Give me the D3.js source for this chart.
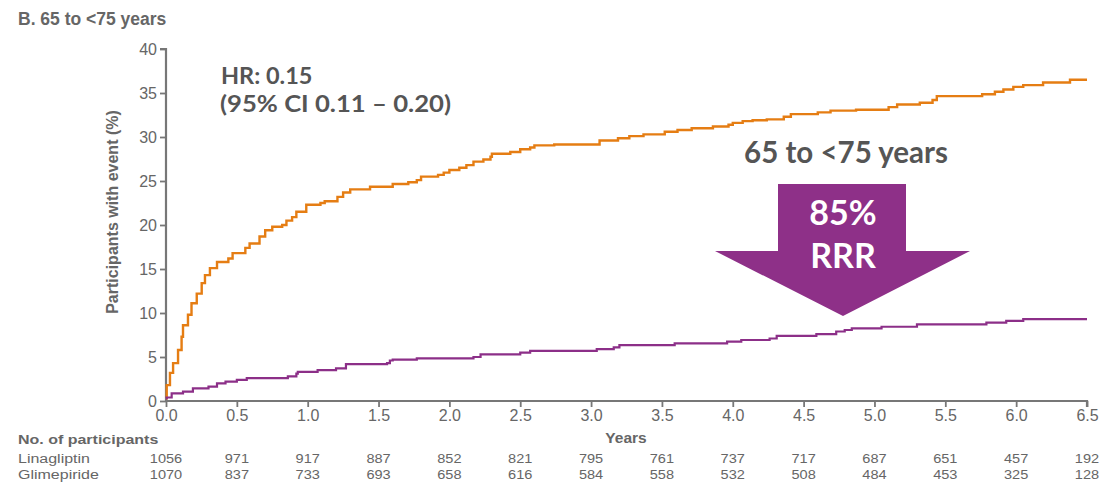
<!DOCTYPE html>
<html>
<head>
<meta charset="utf-8">
<script src="https://cdn.jsdelivr.net/npm/d3@7"></script>
<style>
  html, body { margin: 0; padding: 0; background: #fff; }
  svg { display: block; }
</style>
</head>
<body>
<svg id="chart" width="1099" height="482"></svg>
<script>
// Kaplan–Meier style cumulative incidence, 65 to <75 years
const linaTime = [0, 0.004, 0.04, 0.12, 0.19, 0.30, 0.36, 0.42, 0.50, 0.57, 0.86, 0.92, 0.93, 1.07, 1.20, 1.27, 1.56, 1.58, 1.60, 1.77, 2.17, 2.22, 2.50, 2.57, 3.04, 3.16, 3.20, 3.59, 3.96, 4.06, 4.26, 4.31, 4.59, 4.73, 4.79, 4.84, 5.05, 5.30, 5.79, 5.93, 6.05, 6.5];
const linaPct  = [0.3, 0.4, 0.87, 1.06, 1.44, 1.63, 2.0, 2.2, 2.4, 2.6, 2.8, 3.1, 3.3, 3.5, 3.7, 4.2, 4.3, 4.6, 4.7, 4.85, 5.0, 5.3, 5.5, 5.7, 5.9, 6.1, 6.36, 6.55, 6.74, 6.93, 7.1, 7.4, 7.6, 7.9, 8.07, 8.26, 8.44, 8.7, 8.9, 9.1, 9.3, 9.3];

const glimTime = [0, 0.005, 0.028, 0.05, 0.085, 0.11, 0.12, 0.155, 0.18, 0.217, 0.252, 0.275, 0.31, 0.36, 0.44, 0.47, 0.56, 0.59, 0.66, 0.70, 0.75, 0.82, 0.85, 0.89, 0.92, 0.99, 1.09, 1.12, 1.21, 1.25, 1.30, 1.44, 1.60, 1.71, 1.77, 1.80, 1.92, 1.96, 2.00, 2.07, 2.12, 2.17, 2.24, 2.29, 2.30, 2.43, 2.50, 2.57, 2.60, 2.74, 3.06, 3.19, 3.27, 3.37, 3.52, 3.61, 3.71, 3.86, 3.97, 4.00, 4.07, 4.14, 4.24, 4.36, 4.41, 4.60, 4.69, 4.87, 5.10, 5.16, 5.32, 5.41, 5.44, 5.76, 5.85, 5.91, 5.98, 6.05, 6.19, 6.38, 6.5];
const glimPct  = [0.3, 1.8, 3.2, 4.3, 5.8, 7.3, 8.6, 9.8, 11.1, 12.2, 13.4, 14.3, 15.1, 15.8, 16.2, 16.8, 17.4, 17.9, 18.7, 19.4, 19.8, 20.0, 20.5, 20.9, 21.5, 22.3, 22.5, 22.7, 23.2, 23.7, 24.05, 24.35, 24.66, 24.85, 25.1, 25.5, 25.7, 25.95, 26.25, 26.5, 26.8, 27.2, 27.45, 27.75, 28.1, 28.3, 28.6, 28.8, 29.05, 29.15, 29.6, 29.85, 30.1, 30.3, 30.6, 30.8, 31.0, 31.2, 31.4, 31.6, 31.8, 31.9, 32.0, 32.3, 32.6, 32.8, 33.0, 33.1, 33.4, 33.7, 33.9, 34.2, 34.65, 34.85, 35.15, 35.4, 35.7, 35.9, 36.2, 36.5, 36.5];

// Axis ticks
const xTicks = [0, 0.5, 1, 1.5, 2, 2.5, 3, 3.5, 4, 4.5, 5, 5.5, 6, 6.5];
const yTicks = [0, 5, 10, 15, 20, 25, 30, 35, 40];

// Numbers at risk at each half-year tick
const riskLina = [1056, 971, 917, 887, 852, 821, 795, 761, 737, 717, 687, 651, 457, 192];
const riskGlim = [1070, 837, 733, 693, 658, 616, 584, 558, 532, 508, 484, 453, 325, 128];

const colLina = "#8c2f88";
const colGlim = "#e57d13";
const textGrey = "#555";
const axisGrey = "#777";
const sans = "Liberation Sans, Arial, sans-serif";

const svg = d3.select("#chart");

const x = d3.scaleLinear().domain([0, 6.5]).range([166, 1087]);
const y = d3.scaleLinear().domain([0, 40]).range([401, 49]);

// Title
svg.append("text")
  .attr("x", 18).attr("y", 25)
  .attr("font-family", sans)
  .attr("font-weight", "bold").attr("font-size", 17.5)
  .attr("fill", "#666")
  .text("B. 65 to <75 years");

// Y axis
const yAxis = svg.append("g")
  .attr("transform", `translate(${x(0)},0)`)
  .call(d3.axisLeft(y).tickValues(yTicks).tickSize(6).tickPadding(3).tickFormat(d3.format("d")));

// X axis
const xAxis = svg.append("g")
  .attr("transform", `translate(0,${y(0)})`)
  .call(d3.axisBottom(x).tickValues(xTicks).tickSize(6).tickPadding(3).tickFormat(d3.format(".1f")));

[yAxis, xAxis].forEach(g => {
  g.select(".domain").attr("stroke", axisGrey).attr("stroke-width", 2.2);
  g.selectAll(".tick line").attr("stroke", axisGrey).attr("stroke-width", 1.8);
  g.selectAll(".tick text")
    .attr("fill", "#666")
    .attr("font-family", sans)
    .attr("font-size", 16);
});
yAxis.select(".domain").attr("d", `M-6,${y(40)}H0V${y(0)}`);
xAxis.select(".domain").attr("d", `M${x(0)},0H${x(6.5)}V6`);

// Axis titles
svg.append("text")
  .attr("transform", `translate(118,212) rotate(-90)`)
  .attr("text-anchor", "middle")
  .attr("font-family", sans)
  .attr("font-weight", "bold").attr("font-size", 16)
  .attr("fill", "#666")
  .text("Participants with event (%)");

svg.append("text")
  .attr("x", 626).attr("y", 443)
  .attr("text-anchor", "middle")
  .attr("font-family", sans)
  .attr("font-weight", "bold").attr("font-size", 15.5)
  .attr("fill", "#666")
  .text("Years");

// Step curves
const step = d3.line()
  .x(d => x(d[0]))
  .y(d => y(d[1]))
  .curve(d3.curveStepAfter);

svg.append("path")
  .datum(d3.zip(glimTime, glimPct))
  .attr("fill", "none")
  .attr("stroke", colGlim)
  .attr("stroke-width", 2.4)
  .attr("d", step);

svg.append("path")
  .datum(d3.zip(linaTime, linaPct))
  .attr("fill", "none")
  .attr("stroke", colLina)
  .attr("stroke-width", 2.2)
  .attr("d", step);

// Hazard ratio annotation
const hr = svg.append("text")
  .attr("font-family", "Lato, sans-serif")
  .attr("font-weight", "bold").attr("font-size", 23.5)
  .attr("fill", textGrey);
hr.append("tspan").attr("x", 221).attr("y", 84).text("HR: 0.15");
hr.append("tspan").attr("x", 220).attr("y", 112)
  .attr("textLength", 231).attr("lengthAdjust", "spacingAndGlyphs")
  .text("(95% CI 0.11 \u2013 0.20)");

// Relative risk reduction arrow
svg.append("text")
  .attr("x", 846).attr("y", 163)
  .attr("text-anchor", "middle")
  .attr("font-family", "Lato, sans-serif")
  .attr("font-weight", "bold").attr("font-size", 29.5)
  .attr("fill", textGrey)
  .text("65 to <75 years");

const arrowX = [778, 906, 970, 843, 715];
const arrowY = [184, 251, 316];
svg.append("path")
  .attr("d", `M${arrowX[0]},${arrowY[0]}H${arrowX[1]}V${arrowY[1]}H${arrowX[2]}L${arrowX[3]},${arrowY[2]}L${arrowX[4]},${arrowY[1]}H${arrowX[0]}Z`)
  .attr("fill", "#8e3088");

const rrr = svg.append("text")
  .attr("text-anchor", "middle")
  .attr("font-family", "Lato, sans-serif")
  .attr("font-weight", "bold").attr("font-size", 34)
  .attr("fill", "#fff");
rrr.append("tspan").attr("x", 843).attr("y", 225).text("85%");
rrr.append("tspan").attr("x", 843).attr("y", 268).text("RRR");

// Numbers at risk table (set in a horizontally widened face)
const tbl = svg.append("g")
  .attr("font-family", sans)
  .attr("fill", "#666");

const widen = 1.28;
const rowLabel = (txt, ty, bold) => tbl.append("text")
  .attr("transform", `translate(18,${ty}) scale(${widen},1)`)
  .attr("font-weight", bold ? "bold" : "normal")
  .attr("font-size", 12.5)
  .text(txt);

rowLabel("No. of participants", 444, true);
rowLabel("Linagliptin", 463, false);
rowLabel("Glimepiride", 479, false);

const riskRow = (cls, data, ty) => tbl.selectAll("." + cls).data(data).join("text")
  .attr("class", cls)
  .attr("transform", (d, i) => `translate(${x(xTicks[i])},${ty}) scale(1.12,1)`)
  .attr("text-anchor", "middle")
  .attr("font-size", 13)
  .text(d => d);

riskRow("rl", riskLina, 463);
riskRow("rg", riskGlim, 479);
</script>
</body>
</html>
